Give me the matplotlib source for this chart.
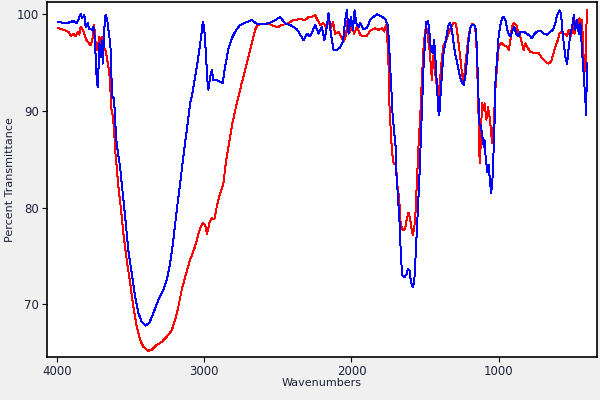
import matplotlib
matplotlib.use("Agg")
import matplotlib.pyplot as plt

# blue spectrum (wavenumber, %T)
blue_wn = [3993, 3936, 3891, 3868, 3841, 3830, 3816, 3807, 3793, 3784, 3766, 3755, 3748, 3739, 3732,
           3725, 3721, 3714, 3705, 3698, 3691, 3682, 3676, 3669, 3660, 3653, 3646, 3637, 3628, 3614,
           3607, 3596, 3573, 3562, 3539, 3517, 3494, 3471, 3449, 3426, 3399, 3374, 3347, 3313, 3279,
           3256, 3233, 3211, 3188, 3165, 3143, 3120, 3097, 3085, 3063, 3041, 3029, 3018, 3011, 3002,
           2990, 2980, 2973, 2961, 2950, 2939, 2916, 2893, 2875, 2859, 2837, 2814, 2791, 2757, 2712,
           2678, 2644, 2576, 2541, 2485, 2451, 2417, 2371, 2349, 2326, 2303, 2281, 2247, 2224, 2201,
           2185, 2171, 2156, 2140, 2122, 2099, 2076, 2058, 2043, 2031, 2020, 2004, 1990, 1979, 1968,
           1952, 1941, 1918, 1895, 1873, 1861, 1827, 1793, 1771, 1755, 1745, 1740, 1732, 1721, 1709,
           1698, 1695, 1684, 1673, 1664, 1655, 1639, 1623, 1616, 1605, 1596, 1585, 1580, 1571, 1562,
           1551, 1539, 1530, 1521, 1510, 1499, 1492, 1480, 1472, 1460, 1449, 1438, 1429, 1419, 1410,
           1403, 1397, 1385, 1374, 1363, 1351, 1340, 1329, 1317, 1306, 1294, 1283, 1272, 1261, 1249,
           1238, 1227, 1215, 1204, 1193, 1181, 1165, 1154, 1147, 1140, 1131, 1120, 1113, 1101, 1096,
           1090, 1083, 1077, 1068, 1057, 1050, 1043, 1038, 1034, 1027, 1022, 1011, 1000, 988, 977,
           966, 954, 943, 932, 920, 909, 893, 880, 864, 852, 830, 807, 784, 773, 761,
           739, 716, 693, 671, 648, 630, 614, 603, 587, 575, 569, 557, 546, 534, 523,
           512, 500, 489, 478, 467, 455, 444, 433, 422, 410, 405, 399]
blue_t = [99.2, 99.07, 99.3, 99.07, 100.03, 99.6, 99.9, 98.7, 99.07, 98.5, 98.4, 98.7, 98.1, 95.6, 93.2,
          92.45, 93.9, 97.0, 95.6, 97.3, 94.9, 97.7, 99.75, 99.9, 99.4, 98.4, 97.7, 96.3, 91.5, 91.3,
          89.0, 86.5, 84.2, 82.5, 79.1, 75.6, 73.2, 70.8, 69.1, 68.2, 67.8, 68.1, 69.1, 70.45, 71.5,
          72.5, 74.2, 76.65, 79.75, 82.5, 85.3, 88.0, 90.8, 91.5, 93.5, 95.6, 97.0, 98.2, 99.2, 98.7,
          96.0, 93.2, 92.2, 93.5, 94.2, 93.2, 93.2, 93.0, 92.9, 94.6, 96.4, 97.5, 98.2, 98.9, 99.2,
          99.4, 99.0, 99.0, 99.2, 99.7, 99.07, 98.9, 98.45, 97.9, 97.3, 98.0, 97.7, 98.9, 98.0, 98.7,
          97.3, 98.4, 100.1, 98.0, 96.3, 96.3, 96.6, 97.2, 99.4, 100.4, 98.0, 99.75, 98.4, 100.4, 99.07,
          98.7, 99.07, 98.45, 98.6, 99.4, 99.6, 100.0, 99.75, 99.5, 98.9, 97.3, 95.3, 93.2, 89.75, 87.7,
          86.0, 83.55, 81.1, 78.4, 74.9, 73.0, 72.8, 73.2, 73.7, 73.45, 72.3, 71.8, 71.8, 72.9, 75.6,
          79.1, 82.9, 86.5, 90.4, 94.6, 97.3, 99.2, 99.3, 98.4, 96.3, 96.0, 97.3, 95.3, 92.5, 90.1,
          89.6, 91.1, 93.9, 96.0, 97.0, 98.0, 98.9, 99.07, 98.4, 97.0, 95.8, 95.1, 94.2, 93.5, 92.9,
          92.7, 93.5, 95.3, 97.3, 98.55, 98.9, 98.9, 98.4, 96.3, 92.9, 88.7, 88.4, 87.7, 86.3, 87.0,
          85.6, 84.6, 83.7, 84.4, 82.5, 81.5, 82.7, 83.9, 86.0, 89.0, 92.9, 95.3, 97.7, 98.9, 99.6,
          99.75, 99.4, 98.55, 98.0, 97.7, 98.2, 98.7, 98.0, 97.7, 98.2, 98.2, 98.0, 97.7, 97.5, 97.9,
          98.2, 98.3, 98.0, 97.9, 98.2, 98.4, 99.07, 99.9, 100.4, 100.1, 98.7, 97.0, 95.6, 94.9, 96.6,
          98.0, 98.7, 99.9, 98.4, 99.4, 98.0, 99.07, 96.3, 93.9, 91.1, 89.6, 95.0]

# red spectrum (wavenumber, %T)
red_wn = [3993, 3959, 3925, 3909, 3891, 3875, 3861, 3850, 3841, 3827, 3816, 3807, 3796, 3784, 3773,
          3762, 3750, 3739, 3728, 3714, 3705, 3696, 3687, 3673, 3664, 3653, 3641, 3635, 3623, 3614,
          3607, 3596, 3585, 3569, 3551, 3528, 3505, 3483, 3460, 3437, 3415, 3381, 3358, 3324, 3290,
          3256, 3222, 3199, 3177, 3154, 3124, 3097, 3063, 3029, 3011, 2995, 2982, 2966, 2950, 2932,
          2916, 2893, 2871, 2852, 2832, 2810, 2780, 2746, 2712, 2678, 2655, 2639, 2609, 2564, 2530,
          2503, 2473, 2439, 2394, 2349, 2315, 2292, 2269, 2247, 2231, 2213, 2190, 2172, 2156, 2140,
          2126, 2111, 2088, 2065, 2050, 2036, 2027, 2009, 1997, 1982, 1963, 1941, 1918, 1895, 1873,
          1839, 1816, 1793, 1777, 1766, 1759, 1748, 1741, 1732, 1725, 1714, 1698, 1687, 1675, 1668,
          1657, 1646, 1634, 1623, 1612, 1600, 1589, 1582, 1573, 1566, 1555, 1544, 1533, 1521, 1510,
          1499, 1492, 1483, 1476, 1469, 1460, 1453, 1446, 1438, 1431, 1419, 1408, 1397, 1385, 1374,
          1363, 1351, 1340, 1329, 1311, 1294, 1283, 1272, 1261, 1249, 1238, 1227, 1215, 1204, 1193,
          1181, 1165, 1154, 1147, 1140, 1133, 1129, 1124, 1118, 1113, 1101, 1095, 1083, 1072, 1061,
          1050, 1045, 1034, 1022, 1011, 1000, 988, 977, 966, 943, 932, 920, 909, 898, 880,
          864, 852, 841, 830, 818, 807, 784, 761, 727, 704, 682, 659, 643, 630, 614,
          598, 587, 575, 562, 546, 534, 523, 507, 493, 484, 470, 461, 450, 439, 433,
          426, 417, 408, 403, 399]
red_t = [98.55, 98.4, 98.2, 97.75, 98.0, 97.7, 98.2, 97.9, 98.7, 98.4, 98.0, 97.5, 97.2, 97.0, 96.8,
         97.3, 98.9, 97.0, 96.3, 97.7, 96.65, 97.7, 96.65, 96.3, 95.6, 94.6, 93.2, 90.4, 89.5, 88.0,
         86.0, 84.2, 82.2, 80.1, 77.35, 74.6, 72.2, 69.75, 67.7, 66.3, 65.6, 65.2, 65.3, 65.8, 66.1,
         66.65, 67.3, 68.4, 69.75, 71.5, 73.2, 74.6, 76.0, 77.9, 78.4, 78.2, 77.3, 78.4, 78.9, 78.8,
         80.1, 81.5, 82.5, 84.9, 86.65, 88.7, 90.8, 92.9, 94.9, 97.0, 98.4, 98.9, 99.0, 99.07, 98.8,
         98.65, 98.9, 99.0, 99.4, 99.5, 99.4, 99.7, 99.75, 99.9, 99.4, 98.9, 99.07, 98.7, 99.2, 98.6,
         99.2, 98.0, 98.2, 97.5, 97.2, 98.0, 99.4, 98.2, 98.9, 98.0, 98.7, 97.9, 97.7, 97.8, 98.3,
         98.55, 98.4, 98.55, 98.2, 98.9, 98.4, 94.6, 90.1, 87.7, 85.8, 84.6, 84.4, 82.2, 80.8, 78.7,
         77.75, 77.7, 77.9, 78.9, 79.5, 78.7, 77.5, 77.2, 78.0, 79.1, 82.9, 86.5, 89.4, 93.5, 96.6,
         98.4, 98.55, 98.4, 97.0, 96.3, 94.6, 93.2, 95.3, 96.3, 93.9, 92.5, 91.5, 93.5, 95.6, 96.8,
         97.0, 97.5, 98.0, 98.4, 99.07, 99.07, 98.4, 97.0, 95.6, 93.9, 92.9, 94.6, 96.3, 97.7, 98.55,
         99.0, 98.9, 98.0, 95.3, 91.5, 87.7, 84.6, 85.6, 88.5, 90.8, 90.1, 90.8, 89.1, 90.4, 89.4,
         87.7, 86.65, 88.4, 92.2, 94.6, 96.5, 97.0, 97.0, 96.8, 96.65, 96.3, 97.3, 98.7, 99.07, 98.9,
         98.0, 97.7, 97.0, 96.3, 97.0, 96.65, 96.1, 96.0, 96.0, 95.45, 95.1, 94.9, 95.1, 95.8, 96.65,
         97.3, 98.0, 98.2, 97.9, 98.0, 97.7, 98.4, 97.7, 99.07, 98.0, 99.4, 98.4, 99.6, 98.7, 99.4,
         97.0, 93.9, 95.3, 98.7, 100.4]

x_ticks = [4000, 3000, 2000, 1000]
y_ticks = [70, 80, 90, 100]

txt = "#1e2238"

fig = plt.figure(figsize=(6, 4), dpi=100, facecolor="#f0f0f0")
ax = fig.add_axes([47 / 600, 43 / 400, 550 / 600, 355 / 400])
ax.set_facecolor("white")

# thin, crisp 1px traces
ax.plot(red_wn, red_t, color="#ff0000", lw=0.7, antialiased=False)
ax.plot(blue_wn, blue_t, color="#0000ff", lw=0.7, antialiased=False)

ax.set_xlim(4070, 331)
ax.set_ylim(64.55, 101.27)
ax.set_xticks(x_ticks)
ax.set_yticks(y_ticks)
ax.tick_params(direction="out", length=3.5, width=0.8, labelsize=8.5, colors="black",
               labelcolor=txt, pad=2)
for s in ax.spines.values():
    s.set_linewidth(1.2)
    s.set_color("black")

fig.text(10 / 600, 1 - 180 / 400, "Percent Transmittance", rotation=90, ha="center", va="center",
         fontsize=8, color=txt)
fig.text(322 / 600, 1 - 383 / 400, "Wavenumbers", ha="center", va="center", fontsize=8, color=txt)

fig.savefig("out.png", dpi=100, facecolor=fig.get_facecolor())
